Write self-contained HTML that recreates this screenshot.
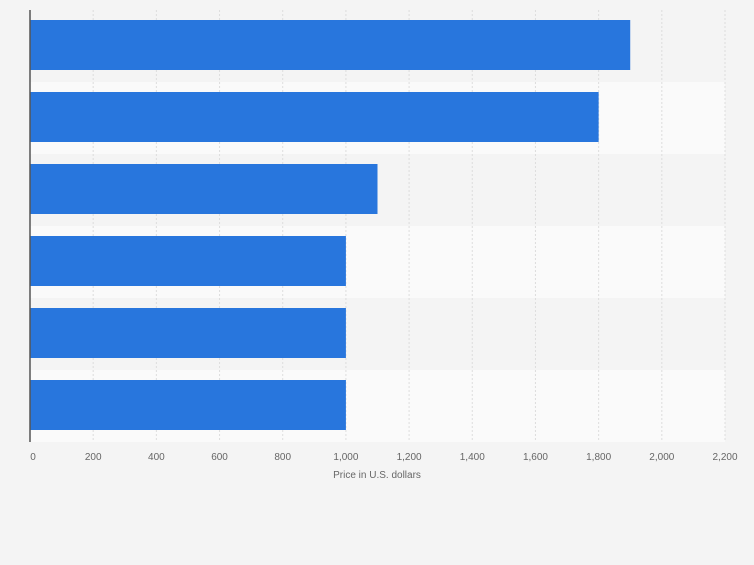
<!DOCTYPE html>
<html><head><meta charset="utf-8"><style>
body{margin:0;background:#f4f4f4;font-family:"Liberation Sans",sans-serif}
</style></head><body>
<svg width="754" height="560">
<g id="bands"></g><g id="grid"></g><g id="bars"></g><g id="ticks"></g>
<line x1="30" y1="10" x2="30" y2="442" stroke="#555" stroke-width="1.5"/>
<text x="377" y="478" font-size="10" fill="#666" text-anchor="middle">Price in U.S. dollars</text>
</svg>
<script>
const categories=["Item 1","Item 2","Item 3","Item 4","Item 5","Item 6"];
const values=[1900,1800,1100,1000,1000,1000];
const tickValues=[0,200,400,600,800,1000,1200,1400,1600,1800,2000,2200];
const tickLabels=["0","200","400","600","800","1,000","1,200","1,400","1,600","1,800","2,000","2,200"];
const NS="http://www.w3.org/2000/svg";
const x0=30,x1=725,maxV=2200,plotTop=10,rowH=72;
const xs=v=>x0+(v/maxV)*(x1-x0);
const ys=i=>plotTop+i*rowH;
function mk(t,a,p){const e=document.createElementNS(NS,t);for(const k in a)e.setAttribute(k,a[k]);document.getElementById(p).appendChild(e);return e;}
categories.forEach((c,i)=>{
 const b=mk('rect',{x:x0,y:ys(i),width:x1-x0,height:rowH,fill:i%2?'#fafafa':'#f4f4f4'},'bands');
 
 
});
tickValues.forEach((v,i)=>{
 if(v>0){const g=mk('line',{x1:xs(v),x2:xs(v),y1:plotTop,y2:plotTop+rowH*categories.length,stroke:'#ddd','stroke-dasharray':'2,2'},'grid');
 
 }
 const t=mk('text',{x:v===0?xs(v)+3:xs(v),y:460,'font-size':'10',fill:'#666','text-anchor':'middle'},'ticks');
 t.textContent=tickLabels[i];
 
 
});
values.forEach((v,i)=>{
 const r=mk('rect',{x:x0,y:ys(i)+10,width:xs(v)-x0,height:50,fill:'#2876dd'},'bars');
 
 
});
</script>
</body></html>
